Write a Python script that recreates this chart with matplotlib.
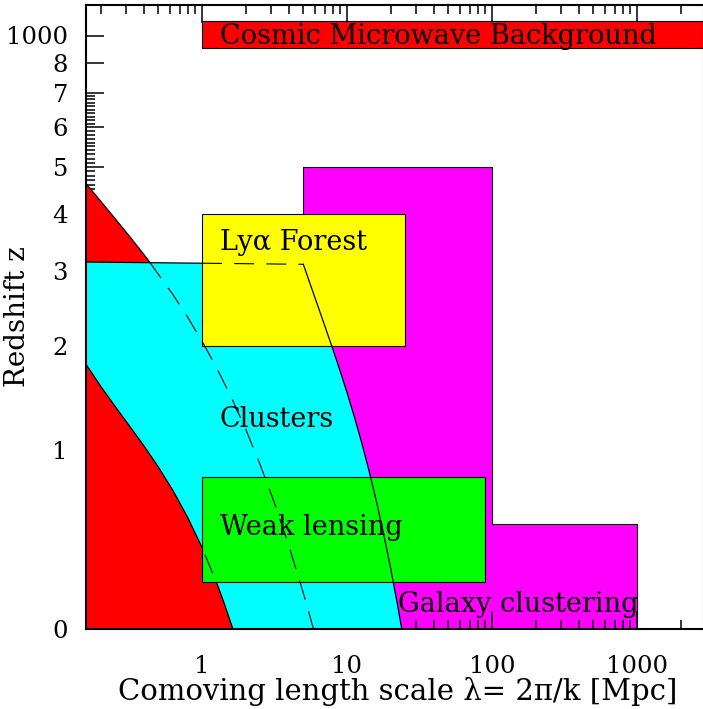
import numpy as np
import matplotlib
matplotlib.use("Agg")
import matplotlib.pyplot as plt
from matplotlib.patches import Polygon, Rectangle

plt.rcParams["font.family"] = ["DejaVu Serif"]

# ---- data (length scale in Mpc, redshift z) ----
# lower red edge (small-scale limit at low z)
lam_low = [0.158, 0.1995, 0.2512, 0.3162, 0.3981, 0.5012, 0.631, 0.7943,
           1.0, 1.259, 1.413, 1.629]
z_low = [1.793, 1.564, 1.370, 1.195, 1.031, 0.870, 0.708, 0.541,
         0.370, 0.196, 0.108, 0.0]

# upper red edge: solid part above the cluster band, dashed continuation below
lam_up = [0.158, 0.1995, 0.2512, 0.3162, 0.3981, 0.433]
z_up = [4.634, 4.259, 3.913, 3.585, 3.270, 3.156]
lam_dash = [0.433, 0.631, 0.7943, 1.0, 1.259, 1.585, 1.995, 2.512, 3.162,
            3.981, 5.012, 5.861]
z_dash = [3.156, 2.655, 2.352, 2.052, 1.754, 1.460, 1.172, 0.892, 0.627,
          0.376, 0.145, 0.0]

# cluster band: top edge and large-scale edge
lam_ctop = [0.158, 5.0]
z_ctop = [3.15, 3.113]
lam_cright = [5.0, 5.623, 6.310, 7.079, 7.943, 8.913, 10.0, 11.22, 12.59,
              14.13, 15.85, 17.78, 19.95, 22.39, 23.82]
z_cright = [3.113, 2.785, 2.493, 2.222, 1.970, 1.730, 1.500, 1.278, 1.062,
            0.852, 0.650, 0.454, 0.267, 0.091, 0.0]

# rectangular probes
lya_lam = [1.0, 25.0]
lya_z = [2.0, 4.0]
wl_lam = [1.0, 90.0]
wl_z = [0.2, 0.8]
cmb_lam = [1.0, 4000.0]
cmb_z = [850.0, 1200.0]

# galaxy clustering (stepped outline)
gal_lam = [5.0, 5.0, 100.0, 100.0, 1000.0, 1000.0]
gal_z = [0.0, 5.0, 5.0, 0.5, 0.5, 0.0]

# axis ticks
x_major = [1, 10, 100, 1000]
x_major_labels = ["1", "10", "100", "1000"]
y_major = [0, 1, 2, 3, 4, 5, 6, 7, 8, 1000]
y_major_labels = ["0", "1", "2", "3", "4", "5", "6", "7", "8", "1000"]


def ypos(z):
    """Vertical position: log(1+z) below z~100, then a compressed
    segment (axis break) centred on z=1000."""
    z = np.asarray(z, dtype=float)
    low = np.log10(1.0 + z)
    high = 1.0 + 0.3 * (np.log10(np.maximum(z, 1.0)) - 3.0)
    return np.where(z < 100, low, high)


W, H = 703, 709
fig = plt.figure(figsize=(W / 100, H / 100), dpi=100)
L, R, T, B = 86, 704, 4.5, 628.5
ax = fig.add_axes([L / W, 1 - B / H, (R - L) / W, (B - T) / H])
ax.set_xscale("log")

edge = dict(edgecolor="black", linewidth=0.8)

# galaxy clustering
ax.add_patch(Polygon(np.column_stack([gal_lam, ypos(gal_z)]),
                     facecolor="#ff00ff", zorder=1, **edge))

# red region left of the upper edge
red_lam = [lam_up[0]] + lam_up + lam_dash[1:]
red_z = [0.0] + z_up + z_dash[1:]
ax.add_patch(Polygon(np.column_stack([red_lam, ypos(red_z)]),
                     facecolor="#ff0000", edgecolor="none", zorder=2))

# cluster band
cl_lam = lam_ctop + lam_cright[1:] + lam_low[::-1]
cl_z = z_ctop + z_cright[1:] + z_low[::-1]
ax.add_patch(Polygon(np.column_stack([cl_lam, ypos(cl_z)]),
                     facecolor="#00ffff", edgecolor="none", zorder=3))

# solid edges that sit under the probe boxes
ax.plot(lam_low, ypos(z_low), color="black", lw=0.9, zorder=3.5)
ax.plot(lam_ctop, ypos(z_ctop), color="black", lw=0.9, zorder=3.5)

# probe boxes
lya = Rectangle((lya_lam[0], ypos(lya_z[0])), lya_lam[1] - lya_lam[0],
                ypos(lya_z[1]) - ypos(lya_z[0]), facecolor="#ffff00", zorder=4, **edge)
wl = Rectangle((wl_lam[0], ypos(wl_z[0])), wl_lam[1] - wl_lam[0],
               ypos(wl_z[1]) - ypos(wl_z[0]), facecolor="#00ff00", zorder=4, **edge)
cmb = Rectangle((cmb_lam[0], ypos(cmb_z[0])), cmb_lam[1] - cmb_lam[0],
                ypos(cmb_z[1]) - ypos(cmb_z[0]), facecolor="#ff0000", zorder=4, **edge)
for p in (lya, wl, cmb):
    ax.add_patch(p)

dash = dict(color="black", lw=0.8, dashes=(18, 11), zorder=5)

# hidden edges shown dashed through the boxes
ln, = ax.plot(lam_ctop, ypos(z_ctop), color="black", lw=0.8,
              linestyle=(11.5, (18, 11)), zorder=5)
ln.set_clip_path(lya)
ln, = ax.plot(lam_low, ypos(z_low), **dash)
ln.set_clip_path(wl)

# upper red edge and its dashed continuation
ax.plot(lam_up, ypos(z_up), color="black", lw=0.9, zorder=5)
ax.plot(lam_dash, ypos(z_dash), **dash)

# large-scale edge of the cluster band
ax.plot(lam_cright, ypos(z_cright), color="black", lw=0.9, zorder=5)

# labels
fs = 19.5
ax.text(1.33, 0.9857, "Cosmic Microwave Background", fontsize=fs, va="baseline", zorder=6)
ax.text(1.33, 0.6383, "Lyα Forest", fontsize=fs, va="baseline", zorder=6)
ax.text(1.33, 0.3398, "Clusters", fontsize=fs, va="baseline", zorder=6)
ax.text(1.33, 0.1577, "Weak lensing", fontsize=fs, va="baseline", zorder=6)
ax.text(22.4, 0.0283, "Galaxy clustering", fontsize=fs, va="baseline", zorder=6)

# ticks
ax.set_xticks(x_major)
ax.set_xticklabels(x_major_labels)
minor_x = [m * 10.0 ** e for e in range(-1, 4) for m in range(2, 10)]
ax.set_xticks(minor_x, minor=True)
ax.set_yticks(ypos(y_major))
ax.set_yticklabels(y_major_labels)
minor_z = [k / 10 for k in range(1, 70) if k % 10]
ax.set_yticks(ypos(minor_z), minor=True)

# limits last, so tick placement cannot widen them
ax.set_xlim(10 ** ((L - 202) / 145.0), 10 ** ((R - 202) / 145.0))
ax.set_ylim(0, (B - T) / 593.0)

ax.tick_params(which="both", direction="in", top=True, right=False,
               labelsize=17.5, width=1.1, colors="black")
ax.tick_params(which="major", length=13)
ax.tick_params(which="minor", length=6.5)
ax.tick_params(axis="x", which="major", pad=19)
ax.tick_params(axis="y", which="major", pad=13)

for s in ax.spines.values():
    s.set_linewidth(1.5)
    s.set_zorder(10)

fig.text(398 / W, 1 - 691 / H, "Comoving length scale λ= 2π/k [Mpc]",
         fontsize=21, ha="center", va="center")
fig.text(18 / W, 1 - 317 / H, "Redshift z", fontsize=20, rotation=90,
         ha="center", va="center")

fig.savefig("out.png", dpi=100)
